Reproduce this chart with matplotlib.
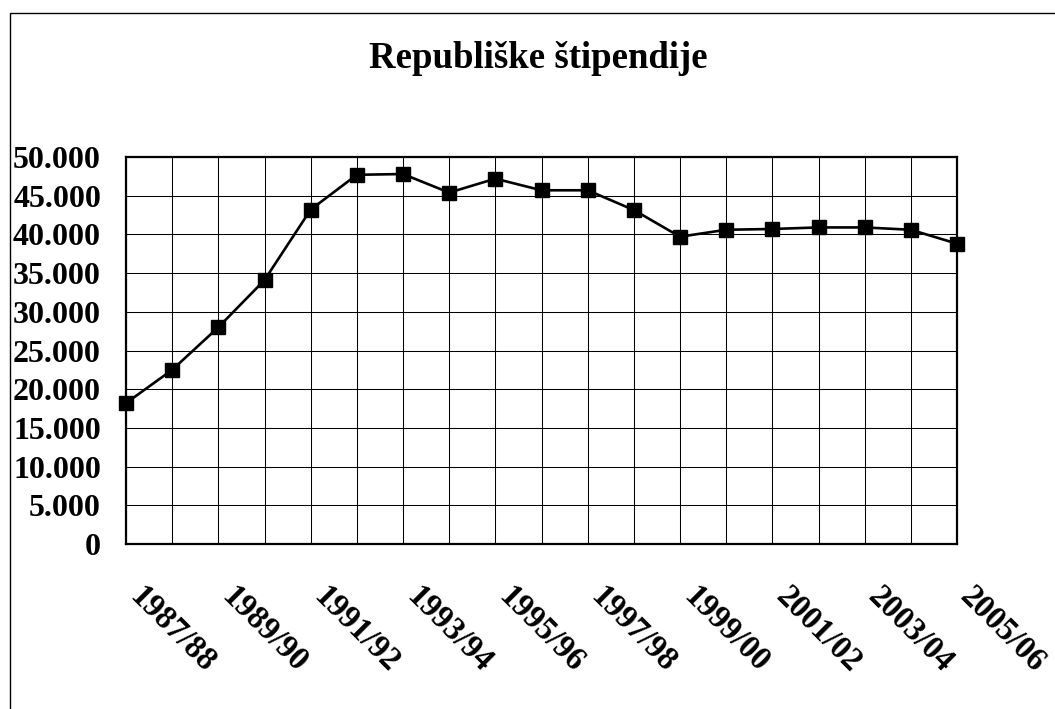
import matplotlib
matplotlib.use('Agg')
import matplotlib.pyplot as plt
import matplotlib.transforms as mtransforms
from matplotlib.patches import Rectangle

# School years and number of republic scholarships
years = ['1987/88', '1988/89', '1989/90', '1990/91', '1991/92', '1992/93',
         '1993/94', '1994/95', '1995/96', '1996/97', '1997/98', '1998/99',
         '1999/00', '2000/01', '2001/02', '2002/03', '2003/04', '2004/05',
         '2005/06']
stipendije = [18200, 22500, 28000, 34100, 43200, 47700, 47800, 45400, 47200,
              45700, 45700, 43150, 39700, 40600, 40700, 40900, 40900, 40600,
              38800]
y_ticks = list(range(0, 50001, 5000))

plt.rcParams['font.family'] = ['Liberation Serif', 'DejaVu Serif']
plt.rcParams['font.weight'] = 'bold'

fig = plt.figure(figsize=(10.55, 7.09), dpi=100)
ax = fig.add_axes([126 / 1055, 1 - 544 / 709, (957 - 126) / 1055, (544 - 157) / 709])

x = list(range(len(years)))
ax.plot(x, stipendije, color='black', linewidth=1.9, marker='s',
        markersize=10.5, markerfacecolor='black', clip_on=False, zorder=5)

ax.set_xlim(0, len(years) - 1)
ax.set_ylim(0, 50000)

ax.set_xticks(x)
ax.set_xticklabels([])
# rotated year labels, every other school year
lbl_trans = ax.get_xaxis_transform() + mtransforms.ScaledTranslation(
    19 / 100, -37 / 100, fig.dpi_scale_trans)
for i, y in enumerate(years):
    if i % 2 == 0:
        ax.text(i, 0, y, transform=lbl_trans, rotation=-45, ha='left',
                va='top', rotation_mode='anchor', fontsize=23.5,
                fontweight='bold')

ax.set_yticks(y_ticks)
ax.set_yticklabels([f'{v:,}'.replace(',', '.') for v in y_ticks],
                   fontsize=23, fontweight='bold')

ax.tick_params(axis='x', length=0)
ax.tick_params(axis='y', length=0, pad=18)

ax.grid(True, color='black', linewidth=0.75)
ax.set_axisbelow(True)
for sp in ax.spines.values():
    sp.set_linewidth(1.6)

fig.text(538 / 1055, 1 - 58 / 709, 'Republiške štipendije', ha='center',
         va='center', fontsize=26.5, fontweight='bold')

# outer chart frame
fig.patches.append(Rectangle((9.5 / 1055, -0.1), 1.2, 1.1 - 13 / 709,
                             transform=fig.transFigure, fill=False,
                             edgecolor='black', linewidth=1.0))

fig.savefig('out.png', dpi=100)
